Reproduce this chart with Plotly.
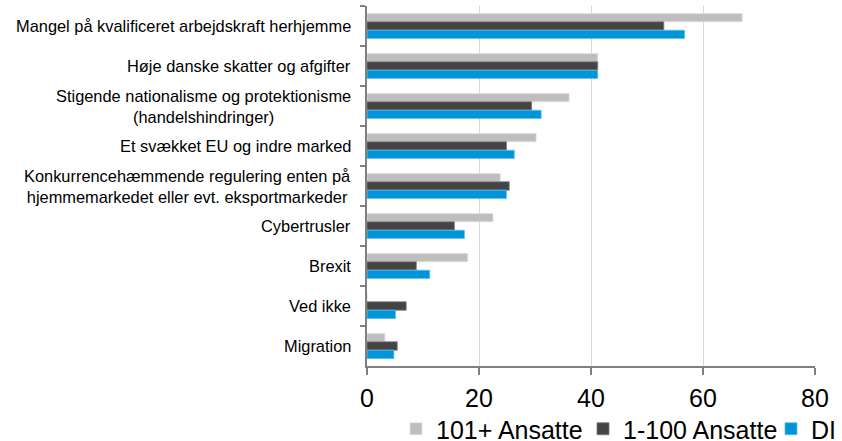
import plotly.graph_objects as go

categories = [
    "Mangel på kvalificeret arbejdskraft herhjemme",
    "Høje danske skatter og afgifter",
    "Stigende nationalisme og protektionisme<br>(handelshindringer)",
    "Et svækket EU og indre marked",
    "Konkurrencehæmmende regulering enten på<br>hjemmemarkedet eller evt. eksportmarkeder",
    "Cybertrusler",
    "Brexit",
    "Ved ikke",
    "Migration",
]
series_names = ["101+ Ansatte", "1-100 Ansatte", "DI"]
v_101 = [67.0, 41.2, 36.1, 30.2, 23.8, 22.5, 18.0, 0.0, 3.2]
v_1_100 = [53.0, 41.2, 29.4, 24.9, 25.4, 15.6, 8.8, 7.0, 5.4]
v_di = [56.7, 41.2, 31.1, 26.3, 24.9, 17.4, 11.2, 5.1, 4.8]
x_ticks = [0, 20, 40, 60, 80]

colors = ["#BEBEBE", "#444444", "#0094D8"]
edge = ["#E2E2E2", "#7A7A7A", "#5CC0EE"]
values = [v_101, v_1_100, v_di]
legend_ids = ["legend", "legend2", "legend3"]
legend_x_px = [396, 583, 771]

FONT = "Liberation Sans, Arial, sans-serif"
W, H = 842, 441

fig = go.Figure()
for name, vals, c, e, lid in zip(series_names, values, colors, edge, legend_ids):
    fig.add_trace(go.Bar(
        y=categories, x=vals, name=name, orientation="h",
        marker=dict(color=c, line=dict(color=e, width=0.8)),
        legend=lid,
    ))

for cat in categories:
    fig.add_annotation(
        x=0, xref="paper", y=cat, yref="y", text=cat,
        xanchor="right", yanchor="middle", align="center", xshift=-14,
        showarrow=False, font=dict(family=FONT, size=16.4, color="#000000"),
    )

legend_common = dict(
    orientation="h", xref="container", yref="container",
    xanchor="left", yanchor="middle", y=(H - 429) / H,
    font=dict(family=FONT, size=25, color="#000000"),
    bgcolor="rgba(0,0,0,0)", itemclick=False, borderwidth=0,
)
legends = {}
for lid, xp in zip(legend_ids, legend_x_px):
    legends[lid] = dict(legend_common, x=xp / W)

fig.update_layout(
    width=W, height=H,
    margin=dict(l=367, r=27, t=6, b=75, autoexpand=False),
    paper_bgcolor="white", plot_bgcolor="white",
    barmode="group", bargap=0.37, bargroupgap=0,
    font=dict(family=FONT, color="#000000"),
    showlegend=True,
    **legends,
)
fig.update_xaxes(
    range=[0, 80], tickvals=x_ticks, ticktext=[str(t) for t in x_ticks],
    showgrid=True, gridcolor="#D9D9D9", gridwidth=1, zeroline=False,
    showline=True, linecolor="#808080", linewidth=1.5,
    ticks="outside", ticklen=7, tickcolor="#808080", tickwidth=1.5,
    ticklabelstandoff=2,
    tickfont=dict(family=FONT, size=25, color="#000000"),
)
fig.update_yaxes(
    autorange="reversed", showticklabels=False,
    showline=True, linecolor="#808080", linewidth=1.5,
    ticks="outside", ticklen=5, tickcolor="#808080", tickwidth=1.5,
    tickson="boundaries", showgrid=False,
)

fig.write_html(
    "out.html",
    config={"displayModeBar": False},
    post_script="document.body.style.margin='0px';document.body.style.overflow='hidden';",
)
